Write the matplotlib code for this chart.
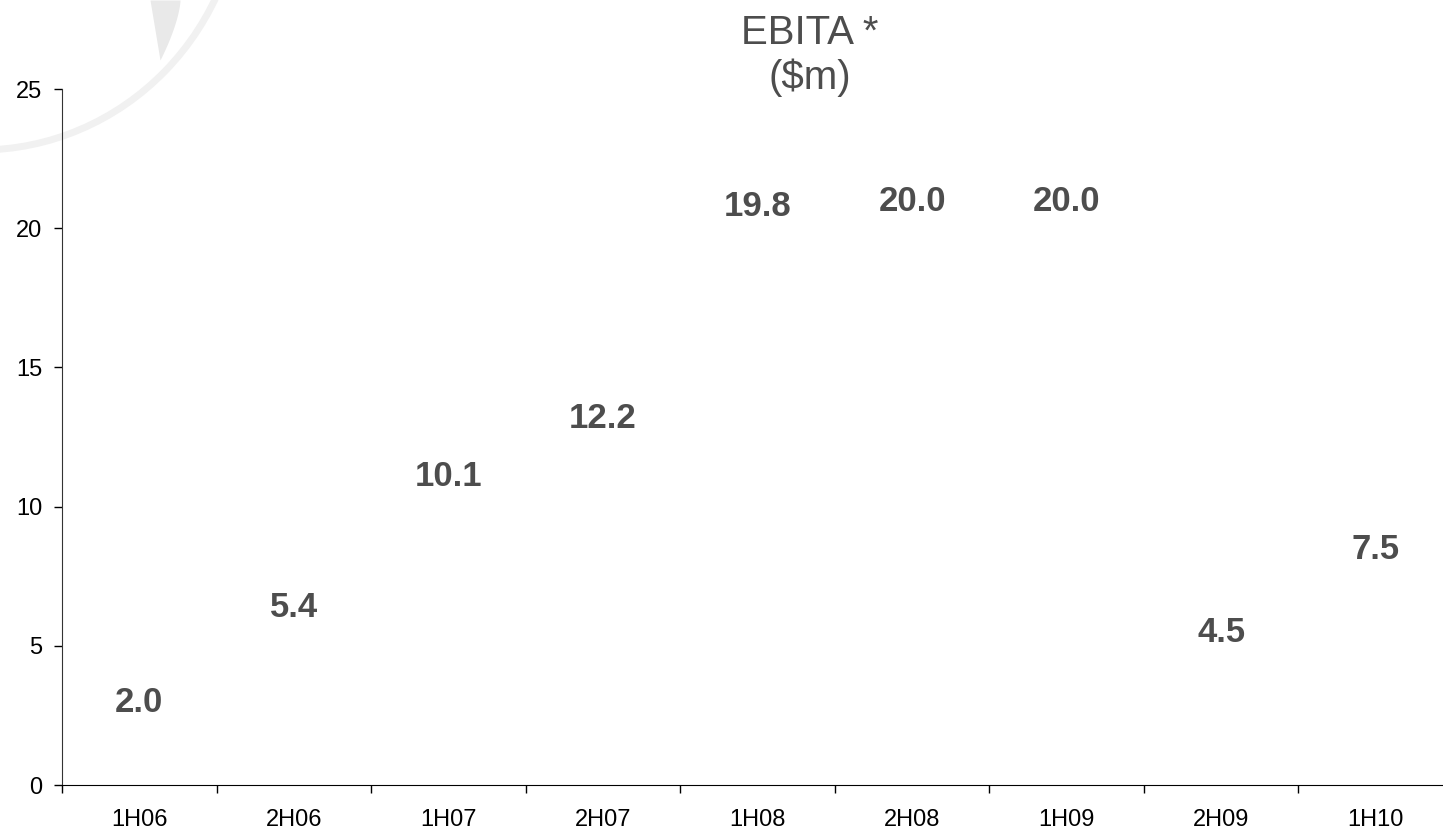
import numpy as np
import matplotlib
matplotlib.use("Agg")
from matplotlib import pyplot as plt
from matplotlib.patches import Arc

plt.rcParams['font.family'] = ['Liberation Sans', 'DejaVu Sans']

#   half-year periods and EBITA in $m
periods = ['1H06', '2H06', '1H07', '2H07', '1H08', '2H08', '1H09', '2H09', '1H10']
ebita = [2.0, 5.4, 10.1, 12.2, 19.8, 20.0, 20.0, 4.5, 7.5]
y_ticks = [0, 5, 10, 15, 20, 25]

fig = plt.figure(figsize=(14.43, 8.34), dpi=100)

#   faint swoosh in the top left corner, drawn in pixel space behind everything
bg = fig.add_axes([0, 0, 1, 1], zorder=-1)
bg.set_xlim(0, 1443)
bg.set_ylim(834, 0)
bg.axis('off')
bg.add_patch(Arc((-20, -120), 2 * 262, 2 * 270, theta1=0, theta2=180, color='#f1f1f1', lw=5))
yy = np.linspace(0, 60, 50)
bg.fill_betweenx(yy, 150 + 10 * (yy / 60), 180 - 20 * (yy / 60) ** 1.5, color='#e9e9e9', lw=0)

ax = fig.add_axes([62 / 1443, 49 / 834, 1391 / 1443, 696 / 834])
ax.patch.set_alpha(0)

x = np.arange(len(periods))
bars = ax.bar(x, ebita, width=0.6, color='white')

#   value labels above each bar
for xi, val in zip(x, ebita):
    ax.annotate(f'{val:.1f}', xy=(xi, val), xytext=(0, 7.5), textcoords='offset points',
                ha='center', va='bottom', fontsize=25, fontweight='bold', color='#4d4d4d')

ax.set_xlim(-0.5, len(periods) - 0.5)
ax.set_ylim(0, 25)
ax.set_yticks(y_ticks)
ax.tick_params(axis='y', direction='out', length=6, width=1, pad=8, labelsize=17, colors='black')

#   tick marks between categories, labels centred under each one
ax.set_xticks(np.arange(len(periods) + 1) - 0.5)
ax.set_xticklabels([])
ax.set_xticks(x, minor=True)
ax.set_xticklabels(periods, minor=True)
ax.tick_params(axis='x', which='major', direction='out', length=6, width=1)
ax.tick_params(axis='x', which='minor', length=0, pad=17, labelsize=17)

ax.spines['top'].set_visible(False)
ax.spines['right'].set_visible(False)
ax.spines['left'].set_color('#333333')
ax.spines['bottom'].set_color('black')

fig.text(810 / 1443, 1 - 33 / 834, 'EBITA *', ha='center', va='center', fontsize=29, color='#4d4d4d')
fig.text(810 / 1443, 1 - 78 / 834, '($m)', ha='center', va='center', fontsize=29, color='#4d4d4d')

plt.savefig('out.png', dpi=100)
